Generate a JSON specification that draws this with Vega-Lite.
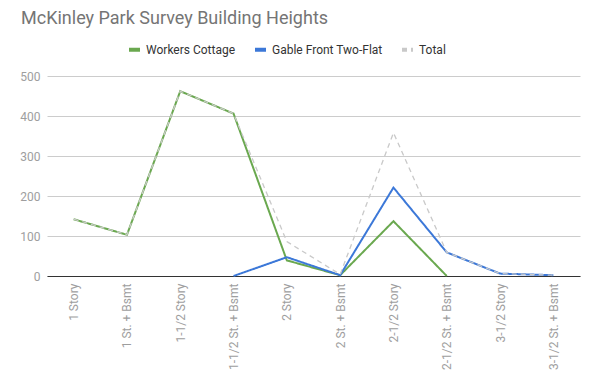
{
  "$schema": "https://vega.github.io/schema/vega-lite/v6.json",
  "width": 533,
  "height": 200,
  "autosize": {"type": "none"},
  "padding": {"left": 47, "top": 76, "right": 20, "bottom": 102},
  "background": "#ffffff",
  "title": {
    "text": "McKinley Park Survey Building Heights",
    "anchor": "start",
    "frame": "group",
    "dx": -26,
    "font": "Roboto",
    "fontSize": 18,
    "fontWeight": "normal",
    "color": "#757575",
    "offset": 14
  },
  "data": {
    "values": [
      {"height": "1 Story", "series": "Workers Cottage", "count": 142},
      {"height": "1 St. + Bsmt", "series": "Workers Cottage", "count": 103},
      {"height": "1-1/2 Story", "series": "Workers Cottage", "count": 462},
      {"height": "1-1/2 St. + Bsmt", "series": "Workers Cottage", "count": 406},
      {"height": "2 Story", "series": "Workers Cottage", "count": 39},
      {"height": "2 St. + Bsmt", "series": "Workers Cottage", "count": 2},
      {"height": "2-1/2 Story", "series": "Workers Cottage", "count": 137},
      {"height": "2-1/2 St. + Bsmt", "series": "Workers Cottage", "count": 0},
      {"height": "1-1/2 St. + Bsmt", "series": "Gable Front Two-Flat", "count": 0},
      {"height": "2 Story", "series": "Gable Front Two-Flat", "count": 47},
      {"height": "2 St. + Bsmt", "series": "Gable Front Two-Flat", "count": 2},
      {"height": "2-1/2 Story", "series": "Gable Front Two-Flat", "count": 221},
      {"height": "2-1/2 St. + Bsmt", "series": "Gable Front Two-Flat", "count": 59},
      {"height": "3-1/2 Story", "series": "Gable Front Two-Flat", "count": 6},
      {"height": "3-1/2 St. + Bsmt", "series": "Gable Front Two-Flat", "count": 2},
      {"height": "1 Story", "series": "Total", "count": 142},
      {"height": "1 St. + Bsmt", "series": "Total", "count": 103},
      {"height": "1-1/2 Story", "series": "Total", "count": 462},
      {"height": "1-1/2 St. + Bsmt", "series": "Total", "count": 406},
      {"height": "2 Story", "series": "Total", "count": 86},
      {"height": "2 St. + Bsmt", "series": "Total", "count": 4},
      {"height": "2-1/2 Story", "series": "Total", "count": 358},
      {"height": "2-1/2 St. + Bsmt", "series": "Total", "count": 59},
      {"height": "3-1/2 Story", "series": "Total", "count": 6},
      {"height": "3-1/2 St. + Bsmt", "series": "Total", "count": 2}
    ]
  },
  "encoding": {
    "x": {
      "field": "height",
      "type": "nominal",
      "sort": ["1 Story", "1 St. + Bsmt", "1-1/2 Story", "1-1/2 St. + Bsmt", "2 Story", "2 St. + Bsmt", "2-1/2 Story", "2-1/2 St. + Bsmt", "3-1/2 Story", "3-1/2 St. + Bsmt"],
      "scale": {"type": "point", "padding": 0.5},
      "axis": {
        "title": null,
        "labelAngle": -90,
        "labelAlign": "right",
        "labelBaseline": "middle",
        "labelPadding": 7,
        "labelFont": "Roboto",
        "labelFontSize": 12,
        "labelColor": "#9e9e9e",
        "ticks": false,
        "grid": false,
        "domainColor": "#333333",
        "domainWidth": 1,
        "labelOverlap": false
      }
    },
    "y": {
      "field": "count",
      "type": "quantitative",
      "scale": {"domain": [0, 500]},
      "axis": {
        "title": null,
        "values": [0, 100, 200, 300, 400, 500],
        "labelFont": "Roboto",
        "labelFontSize": 12,
        "labelColor": "#9e9e9e",
        "labelPadding": 7,
        "ticks": false,
        "domain": false,
        "gridColor": "#cccccc",
        "gridWidth": 1
      }
    },
    "color": {
      "field": "series",
      "type": "nominal",
      "sort": ["Workers Cottage", "Gable Front Two-Flat", "Total"],
      "scale": {
        "domain": ["Workers Cottage", "Gable Front Two-Flat", "Total"],
        "range": ["#6aa84f", "#3c78d8", "#c9c9c9"]
      },
      "legend": {
        "title": null,
        "orient": "none",
        "legendX": 80,
        "legendY": -34,
        "direction": "horizontal",
        "symbolType": "stroke",
        "symbolStrokeWidth": 4,
        "symbolSize": 121,
        "labelFont": "Roboto",
        "labelFontSize": 12,
        "labelColor": "#333333",
        "columnPadding": 11
      }
    },
    "strokeDash": {
      "field": "series",
      "type": "nominal",
      "sort": ["Workers Cottage", "Gable Front Two-Flat", "Total"],
      "scale": {
        "domain": ["Workers Cottage", "Gable Front Two-Flat", "Total"],
        "range": [[1, 0], [1, 0], [5, 4]]
      },
      "legend": null
    }
  },
  "layer": [
    {
      "transform": [{"filter": "datum.series === 'Workers Cottage'"}],
      "mark": {"type": "line", "strokeWidth": 2}
    },
    {
      "transform": [{"filter": "datum.series === 'Gable Front Two-Flat'"}],
      "mark": {"type": "line", "strokeWidth": 2}
    },
    {
      "transform": [{"filter": "datum.series === 'Total'"}],
      "mark": {"type": "line", "strokeWidth": 1.3}
    }
  ],
  "config": {
    "view": {"stroke": null}
  }
}
